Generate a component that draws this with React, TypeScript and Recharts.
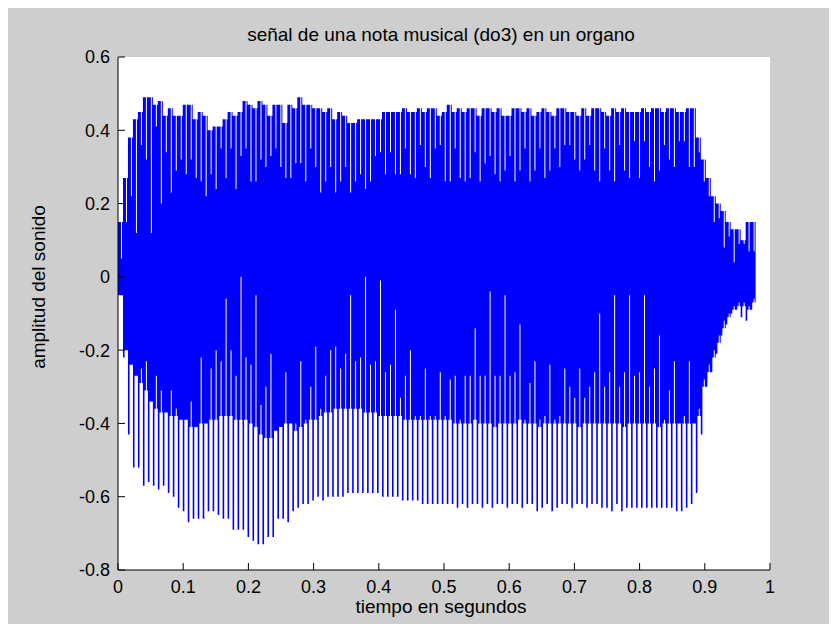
import React from "react";
import {
    ComposedChart,
    Area,
    XAxis,
    YAxis,
    CartesianGrid,
} from "recharts";

// one entry per cycle of the note (do3 ~ 130.8 Hz)
const period = 0.00764;

// highest point reached in each cycle
const peakTop = [
    0.15, 0.27, 0.38, 0.43, 0.45, 0.49, 0.49, 0.47, 0.48, 0.44,
    0.46, 0.44, 0.44, 0.47, 0.47, 0.43, 0.45, 0.44, 0.40, 0.41,
    0.41, 0.43, 0.45, 0.44, 0.45, 0.48, 0.47, 0.46, 0.48, 0.47,
    0.44, 0.47, 0.47, 0.42,
    0.47, 0.46, 0.49, 0.47, 0.47, 0.46, 0.46, 0.45, 0.46, 0.43,
    0.45, 0.44, 0.42, 0.42, 0.43, 0.43, 0.43, 0.43, 0.43, 0.45,
    0.45, 0.45, 0.45, 0.46, 0.45, 0.45, 0.46, 0.45, 0.46, 0.46,
    0.44, 0.45, 0.47, 0.45, 0.46,
    0.45, 0.46, 0.46, 0.44, 0.46, 0.46, 0.45, 0.46, 0.44, 0.44,
    0.46, 0.46, 0.45, 0.46, 0.44, 0.45, 0.46, 0.45, 0.44, 0.46,
    0.46, 0.45, 0.45, 0.44, 0.46, 0.44, 0.46, 0.46, 0.45, 0.44,
    0.46, 0.45, 0.46, 0.45,
    0.45, 0.45, 0.46, 0.45, 0.46, 0.46, 0.45, 0.46, 0.46, 0.45, 0.45, 0.46, 0.46,
    0.38, 0.32, 0.27, 0.22, 0.20, 0.18, 0.15, 0.13, 0.13, 0.10, 0.15, 0.15,
];

// bottom of the thin white notch near the top of each cycle
const notchTop = [
    0.05, 0.15, 0.22, 0.12, 0.36, 0.32, 0.12, 0.41, 0.20, 0.34,
    0.23, 0.29, 0.32, 0.28, 0.32, 0.27, 0.26, 0.22, 0.28, 0.24,
    0.35, 0.27, 0.35, 0.24, 0.33, 0.35, 0.26, 0.26, 0.32, 0.30,
    0.33, 0.35, 0.30, 0.27,
    0.27, 0.31, 0.31, 0.26, 0.35, 0.30, 0.23, 0.26, 0.30, 0.23,
    0.26, 0.30, 0.23, 0.26, 0.28, 0.24, 0.26, 0.33, 0.34, 0.28,
    0.34, 0.28, 0.28, 0.35, 0.28, 0.27, 0.36, 0.30, 0.27, 0.35,
    0.36, 0.26, 0.26, 0.35, 0.27,
    0.26, 0.27, 0.34, 0.26, 0.31, 0.33, 0.28, 0.26, 0.29, 0.33,
    0.26, 0.29, 0.35, 0.26, 0.29, 0.35, 0.27, 0.29, 0.35, 0.30,
    0.36, 0.36, 0.32, 0.29, 0.32, 0.36, 0.29, 0.26, 0.35, 0.29,
    0.26, 0.36, 0.29, 0.27,
    0.37, 0.27, 0.37, 0.30, 0.26, 0.29, 0.36, 0.32, 0.30, 0.37, 0.37, 0.30, 0.30,
    0.34, 0.26, 0.22, 0.15, 0.16, 0.08, 0.11, 0.04, 0.09, 0.09, 0.07, 0.07,
];

// lowest point reached in each cycle
const peakBottom = [
    -0.05, -0.22, -0.43, -0.52, -0.52, -0.57, -0.56, -0.57, -0.58, -0.57,
    -0.59, -0.60, -0.63, -0.64, -0.67, -0.66, -0.66, -0.66, -0.64, -0.64,
    -0.65, -0.66, -0.66, -0.69, -0.69, -0.69, -0.71, -0.72, -0.73, -0.73,
    -0.71, -0.71, -0.66, -0.66, -0.67,
    -0.64, -0.63, -0.62, -0.62, -0.61, -0.60, -0.61, -0.60, -0.60, -0.60,
    -0.60, -0.59, -0.59, -0.59, -0.59, -0.59, -0.59, -0.59, -0.60, -0.60,
    -0.60, -0.60, -0.61, -0.61, -0.61, -0.61, -0.62, -0.62, -0.62, -0.62,
    -0.62, -0.62, -0.62, -0.63,
    -0.62, -0.63, -0.62, -0.62, -0.63, -0.62, -0.63, -0.62, -0.62, -0.63,
    -0.62, -0.62, -0.63, -0.62, -0.62, -0.64, -0.63, -0.62, -0.64, -0.63,
    -0.62, -0.62, -0.63, -0.62, -0.62, -0.63, -0.62, -0.62, -0.63, -0.63,
    -0.64, -0.62, -0.64, -0.63, -0.63, -0.63, -0.63, -0.63, -0.63, -0.63,
    -0.63, -0.63, -0.63, -0.64, -0.64, -0.63, -0.62,
    -0.59, -0.43, -0.30, -0.26, -0.21, -0.16, -0.13, -0.10, -0.09, -0.11, -0.12, -0.09,
];

// lower edge of the solid part of the signal
const bodyBottom = [
    -0.05, -0.20, -0.24, -0.27, -0.29, -0.31, -0.34, -0.36, -0.37, -0.37,
    -0.38, -0.38, -0.39, -0.39, -0.41, -0.41, -0.40, -0.40, -0.39, -0.39,
    -0.38, -0.38, -0.38, -0.39, -0.39, -0.39, -0.40, -0.41, -0.43, -0.44,
    -0.44, -0.42, -0.41, -0.40, -0.40,
    -0.42, -0.41, -0.40, -0.39, -0.39, -0.38, -0.37, -0.37, -0.36, -0.36,
    -0.36, -0.36, -0.36, -0.36, -0.37, -0.37, -0.37, -0.38, -0.38, -0.38,
    -0.38, -0.38, -0.39, -0.39, -0.39, -0.39, -0.39, -0.39, -0.39, -0.39,
    -0.39, -0.39, -0.40, -0.40,
    -0.40, -0.40, -0.39, -0.40, -0.40, -0.40, -0.41, -0.40, -0.40, -0.40,
    -0.40, -0.39, -0.40, -0.40, -0.40, -0.41, -0.40, -0.40, -0.40, -0.40,
    -0.40, -0.40, -0.40, -0.41, -0.40, -0.40, -0.40, -0.40, -0.40, -0.40,
    -0.40, -0.40, -0.41, -0.40, -0.40, -0.40, -0.40, -0.40, -0.40, -0.41,
    -0.40, -0.40, -0.40, -0.40, -0.40, -0.40, -0.40,
    -0.38, -0.30, -0.26, -0.22, -0.18, -0.14, -0.11, -0.09, -0.08, -0.08, -0.09, -0.07,
];

// top of the thin white line that cuts up into the lower part of each cycle
const gapBottom = [
    -0.05, -0.20, -0.24, -0.27, -0.25, -0.23, -0.34, -0.27, -0.31, -0.37,
    -0.31, -0.36, -0.39, -0.39, -0.34, -0.41, -0.22, -0.40, -0.25, -0.20,
    -0.23, -0.06, -0.20, -0.27, 0.00, -0.22, -0.24, -0.05, -0.35, -0.30,
    -0.21, -0.42, -0.41, -0.26, -0.40,
    -0.40, -0.23, -0.39, -0.30, -0.19, -0.36, -0.27, -0.20, -0.19, -0.25,
    -0.21, -0.05, -0.23, -0.22, 0.00, -0.24, -0.23, -0.01, -0.26, -0.24,
    -0.09, -0.33, -0.27, -0.20, -0.38, -0.38, -0.25, -0.38, -0.38, -0.26,
    -0.38, -0.28, -0.27, -0.39,
    -0.27, -0.27, -0.14, -0.27, -0.27, -0.04, -0.27, -0.27, -0.05, -0.27,
    -0.26, -0.13, -0.39, -0.29, -0.23, -0.39, -0.38, -0.24, -0.39, -0.38,
    -0.25, -0.30, -0.33, -0.25, -0.33, -0.30, -0.26, -0.10, -0.30, -0.26,
    -0.05, -0.30, -0.26, -0.05,
    -0.27, -0.26, -0.05, -0.30, -0.25, -0.16, -0.39, -0.31, -0.23, -0.40, -0.38, -0.23, -0.40,
    -0.36, -0.28, -0.24, -0.20, -0.16, -0.12, -0.10, -0.08, -0.07, -0.07, -0.08, -0.06,
];

const xTicks = [0, 0.1, 0.2, 0.3, 0.4, 0.5, 0.6, 0.7, 0.8, 0.9, 1];
const yTicks = [-0.8, -0.6, -0.4, -0.2, 0, 0.2, 0.4, 0.6];

// each cycle is drawn as a few pixel-wide columns, [low, high]
const waveData: { t: number; range: [number, number] }[] = [];
peakTop.forEach((top, i) => {
    const t0 = i * period;
    waveData.push({ t: t0, range: [peakBottom[i], top] });
    waveData.push({ t: t0 + period * 0.32, range: [bodyBottom[i], top] });
    waveData.push({ t: t0 + period * 0.6, range: [gapBottom[i], notchTop[i]] });
    waveData.push({ t: t0 + period * 0.8, range: [bodyBottom[i], top] });
});
const last = peakTop.length - 1;
waveData.push({ t: peakTop.length * period, range: [bodyBottom[last], peakTop[last]] });

const font = "'Liberation Sans', Arial, sans-serif";
const tickStyle = { fill: "#000000", fontSize: 18, fontFamily: font };

const App: React.FC = () => {
    return (
        <div
            style={{
                position: "relative",
                width: 829,
                height: 624,
                background: "#cecece",
                marginBottom: -8,
            }}
        >
            <ComposedChart
                width={829}
                height={624}
                data={waveData}
                margin={{ top: 49, right: 67, bottom: 32, left: 0 }}
            >
                <CartesianGrid fill="#ffffff" horizontal={false} vertical={false} />
                <XAxis
                    dataKey="t"
                    type="number"
                    domain={[0, 1]}
                    ticks={xTicks}
                    interval={0}
                    height={30}
                    tickSize={-7}
                    tickMargin={17}
                    tick={tickStyle}
                    axisLine={{ stroke: "#000000" }}
                    tickLine={{ stroke: "#000000" }}
                />
                <XAxis
                    xAxisId="top"
                    orientation="top"
                    dataKey="t"
                    type="number"
                    domain={[0, 1]}
                    ticks={xTicks}
                    interval={0}
                    height={0}
                    tickSize={-7}
                    tick={false}
                    axisLine={{ stroke: "#000000" }}
                    tickLine={{ stroke: "#000000" }}
                />
                <YAxis
                    type="number"
                    domain={[-0.8, 0.6]}
                    ticks={yTicks}
                    interval={0}
                    width={110}
                    tickSize={-7}
                    tickMargin={15}
                    tick={tickStyle}
                    axisLine={{ stroke: "#000000" }}
                    tickLine={{ stroke: "#000000" }}
                />
                <YAxis
                    yAxisId="right"
                    orientation="right"
                    type="number"
                    domain={[-0.8, 0.6]}
                    ticks={yTicks}
                    interval={0}
                    width={0}
                    tickSize={-7}
                    tick={false}
                    axisLine={{ stroke: "#000000" }}
                    tickLine={{ stroke: "#000000" }}
                />
                <Area
                    dataKey="range"
                    type="stepAfter"
                    stroke="none"
                    fill="#0000ff"
                    fillOpacity={1}
                    dot={false}
                    activeDot={false}
                    isAnimationActive={false}
                />
            </ComposedChart>
            <svg
                width={829}
                height={624}
                style={{ position: "absolute", left: 0, top: 0, pointerEvents: "none" }}
            >
                <text x={433} y={33} textAnchor="middle" fontSize={19} fontFamily={font} fill="#000000">
                    señal de una nota musical (do3) en un organo
                </text>
                <text x={433} y={605} textAnchor="middle" fontSize={19} fontFamily={font} fill="#000000">
                    tiempo en segundos
                </text>
                <text
                    transform="translate(37, 279) rotate(-90)"
                    textAnchor="middle"
                    fontSize={19}
                    fontFamily={font}
                    fill="#000000"
                >
                    amplitud del sonido
                </text>
            </svg>
        </div>
    );
};

export default App;
